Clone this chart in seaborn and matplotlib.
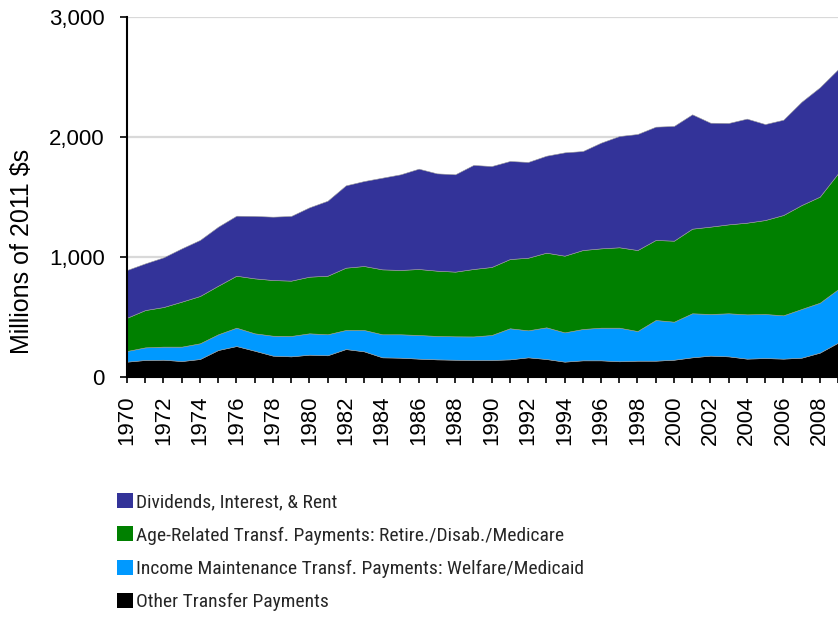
import matplotlib
matplotlib.use("Agg")
import matplotlib.pyplot as plt
from matplotlib.patches import Patch
from matplotlib import font_manager
import seaborn as sns

years = list(range(1970, 2010))

dividends = [398, 389, 414, 444, 467, 492, 500, 520, 528, 539,
             578, 625, 686, 708, 764, 797, 836, 811, 811, 867,
             841, 817, 798, 808, 861, 825, 881, 927, 967, 944,
             956, 953, 866, 845, 867, 800, 794, 861, 911, 867]
age_related = [277, 311, 330, 375, 394, 405, 433, 458, 464, 461,
               472, 488, 519, 533, 541, 536, 550, 544, 539, 562,
               567, 577, 605, 622, 639, 658, 661, 670, 675, 667,
               675, 705, 728, 741, 764, 783, 836, 866, 884, 966]
income_maint = [89, 105, 109, 120, 131, 131, 153, 145, 166, 170,
                178, 175, 159, 178, 192, 195, 197, 195, 195, 196,
                208, 259, 225, 264, 244, 261, 272, 280, 247, 339,
                317, 367, 347, 359, 369, 367, 361, 406, 416, 445]
other_transfer = [128, 142, 144, 133, 150, 225, 258, 219, 178, 172,
                  186, 181, 233, 214, 164, 161, 153, 147, 144, 142,
                  142, 147, 164, 150, 128, 139, 139, 131, 136, 136,
                  144, 164, 178, 172, 153, 158, 153, 161, 203, 286]

series_labels = ["Dividends, Interest, & Rent",
                 "Age-Related Transf. Payments: Retire./Disab./Medicare",
                 "Income Maintenance Transf. Payments: Welfare/Medicaid",
                 "Other Transfer Payments"]
series_colors = ["#333399", "#008000", "#0099ff", "#000000"]

y_ticks = [0, 1000, 2000, 3000]
y_ticklabels = ["0", "1,000", "2,000", "3,000"]

sns.set_theme(style="white")
plt.rcParams["font.family"] = ["Liberation Sans", "DejaVu Sans"]

# prefer a narrow sans for the legend when one is available
installed = {f.name for f in font_manager.fontManager.ttflist}
narrow = next((n for n in ["Liberation Sans Narrow", "Arial Narrow",
                           "Roboto Condensed", "Open Sans Condensed"]
               if n in installed), None)
if narrow:
    legend_prop = {"family": narrow, "size": 14}
    legend_spacing = 0.78
else:
    legend_prop = {"family": "Liberation Sans", "size": 13}
    legend_spacing = 0.8

fig = plt.figure(figsize=(8.38, 6.17), dpi=100)
fig.patch.set_facecolor("white")
ax = fig.add_axes([127 / 838, (617 - 377) / 617, 1 - 127 / 838, 360 / 617])

# stacked from the bottom: other, income maintenance, age-related, dividends
ax.stackplot(years, other_transfer, income_maint, age_related, dividends,
             colors=series_colors[::-1], linewidth=0.4,
             edgecolor="#9a9a9a", zorder=2)

ax.set_xlim(1970, 2009)
ax.set_ylim(0, 3000)
ax.set_yticks(y_ticks)
ax.set_yticklabels(y_ticklabels)
ax.set_xticks(years)
ax.set_xticklabels([str(y) if (y - 1970) % 2 == 0 else "" for y in years],
                   rotation=90)

for v in y_ticks[1:]:
    ax.axhline(v, color="#d9d9d9", linewidth=1.6, zorder=1)

ax.tick_params(axis="y", which="both", left=True, direction="out",
               length=5, width=1.2, pad=11, labelsize=16, colors="black")
ax.tick_params(axis="x", which="both", bottom=True, direction="out",
               length=4.5, width=1.2, pad=9, labelsize=16, colors="black")

for side in ["top", "right"]:
    ax.spines[side].set_visible(False)
for side in ["left", "bottom"]:
    ax.spines[side].set_color("black")
    ax.spines[side].set_linewidth(1.5)
    ax.spines[side].set_zorder(3)

fig.text(22 / 838, 1 - 251 / 617, "Millions of 2011 $s", rotation=90,
         ha="center", va="center", fontsize=18, color="black")

handles = [Patch(facecolor=c, edgecolor="none") for c in series_colors]
fig.legend(handles, series_labels, loc="upper left",
           bbox_to_anchor=(117 / 838, 1 - 493 / 617),
           frameon=False, borderpad=0, borderaxespad=0,
           handlelength=0.8, handleheight=0.8, handletextpad=0.2,
           labelspacing=legend_spacing, prop=legend_prop)

fig.savefig("out.png", dpi=100, facecolor="white")
